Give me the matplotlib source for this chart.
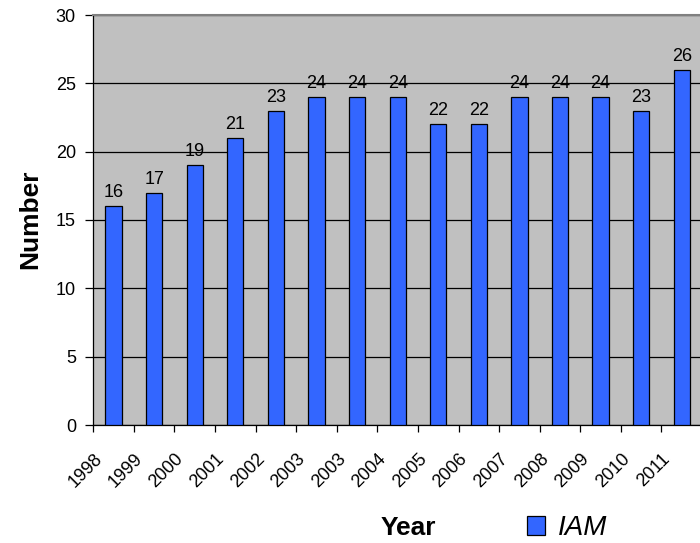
import numpy as np
import matplotlib
matplotlib.use("Agg")
import matplotlib.pyplot as plt
import matplotlib.transforms as mtransforms

plt.rcParams['font.family'] = ['Liberation Sans', 'DejaVu Sans']

# data
years = ['1998', '1999', '2000', '2001', '2002', '2003', '2003', '2004',
         '2005', '2006', '2007', '2008', '2009', '2010', '2011']
counts = [16, 17, 19, 21, 23, 24, 24, 24, 22, 22, 24, 24, 24, 23, 26]
series_name = 'IAM'

barColor = '#3366FF'
bgColor = '#C0C0C0'

fig = plt.figure(figsize=(7.0, 5.43), dpi=100)
ax = fig.add_axes([93.3 / 700, 118 / 543, 608.7 / 700, 410 / 543])
ax.set_facecolor(bgColor)

x = np.arange(len(years))
bars = ax.bar(x, counts, width=0.4, color=barColor, edgecolor='black',
              linewidth=0.9, label=series_name, zorder=3)

# value labels above bars
for xi, v in zip(x, counts):
    ax.annotate(str(v), (xi, v), xytext=(0, 6.5), textcoords='offset points',
                ha='center', va='baseline', fontsize=13)

ax.set_xlim(-0.5, len(years) - 0.5)
ax.set_ylim(0, 30)
ax.set_yticks(np.arange(0, 31, 5))
ax.yaxis.grid(True, color='black', linewidth=0.9, zorder=1)
ax.set_axisbelow(True)
ax.tick_params(axis='y', direction='out', length=6, width=0.9, pad=6.5,
               labelsize=13)

# tick marks between categories, labels drawn separately
ax.set_xticks(x[:-1] + 0.5, minor=False)
ax.set_xticks([-0.5], minor=True)
ax.set_xticklabels([])
ax.tick_params(axis='x', which='both', direction='out', length=5, width=0.9)

trans = mtransforms.blended_transform_factory(ax.transData, ax.transAxes) + \
    mtransforms.ScaledTranslation(-14 / 100, -31 / 100, fig.dpi_scale_trans)
for xi, lab in zip(x, years):
    ax.text(xi, 0, lab, transform=trans, rotation=45, rotation_mode='anchor',
            ha='right', va='center', fontsize=13)

for s in ['left', 'bottom']:
    ax.spines[s].set_color('black')
    ax.spines[s].set_linewidth(0.9)
ax.spines['top'].set_color('#808080')
ax.spines['top'].set_linewidth(1.5)
ax.spines['right'].set_visible(False)

ax.set_ylabel('Number', fontsize=19, fontweight='bold', va='center')
ax.yaxis.set_label_coords(-0.104, 0.502)
ax.set_xlabel('Year', fontsize=19, fontweight='bold', va='center')
ax.xaxis.set_label_coords(0.517, -0.251)

leg = fig.legend(handles=[bars], labels=[series_name], loc='center left',
                 bbox_to_anchor=(527 / 700, 1 - 528 / 543), frameon=False,
                 prop={'size': 20, 'style': 'italic'}, handlelength=0.65,
                 handleheight=0.65, handletextpad=0.47, borderpad=0,
                 borderaxespad=0)

plt.savefig('out.png', dpi=100)
